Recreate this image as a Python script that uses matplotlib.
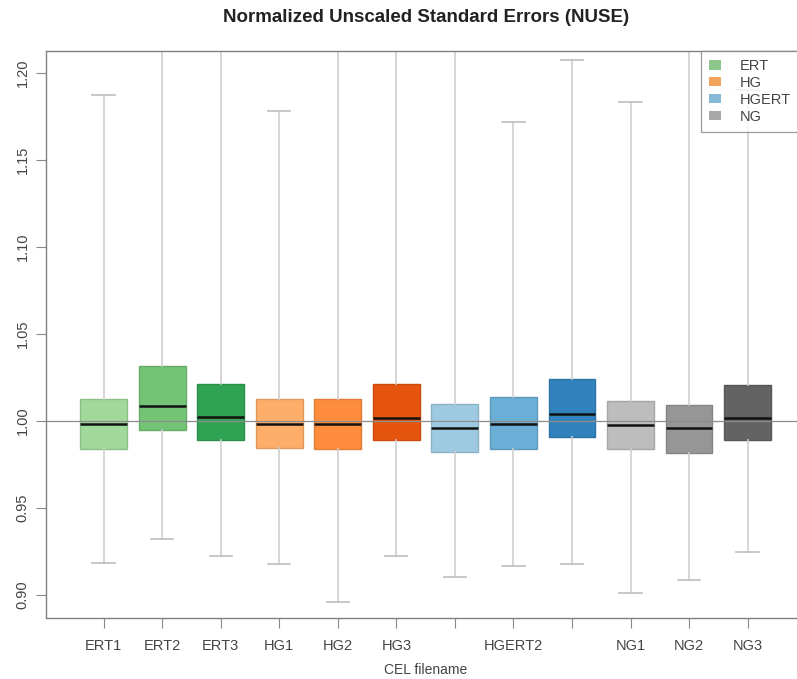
import matplotlib
matplotlib.use("Agg")
import matplotlib.pyplot as plt
from matplotlib.patches import Patch
from matplotlib.colors import to_rgb

plt.rcParams["font.family"] = ["Liberation Sans", "DejaVu Sans"]

# NUSE summary per CEL file
samples = ["ERT1", "ERT2", "ERT3", "HG1", "HG2", "HG3",
           "HGERT1", "HGERT2", "HGERT3", "NG1", "NG2", "NG3"]
medians = [0.9983, 1.0088, 1.0021, 0.9983, 0.9983, 1.0019,
           0.9962, 0.9983, 1.0039, 0.9977, 0.9962, 1.0019]
q1 = [0.9837, 0.9948, 0.9891, 0.9847, 0.9841, 0.9889,
      0.9822, 0.9841, 0.9908, 0.9837, 0.9818, 0.9891]
q3 = [1.0125, 1.0316, 1.0211, 1.0125, 1.0125, 1.0213,
      1.0098, 1.0136, 1.0240, 1.0113, 1.0092, 1.0205]
whisker_low = [0.9186, 0.9320, 0.9224, 0.9180, 0.8958, 0.9224,
               0.9103, 0.9167, 0.9180, 0.9012, 0.9086, 0.9247]
whisker_high = [1.187, 1.260, 1.240, 1.178, 1.300, 1.250,
                1.270, 1.172, 1.2075, 1.1835, 1.250, 1.190]

groups = ["ERT", "HG", "HGERT", "NG"]
group_colors = {
    "ERT": ["#a1d99b", "#74c476", "#31a354"],
    "HG": ["#fdae6b", "#fd8d3c", "#e6550d"],
    "HGERT": ["#9ecae1", "#6baed6", "#3182bd"],
    "NG": ["#bdbdbd", "#969696", "#636363"],
}
legend_colors = ["#8cc68a", "#f3a35c", "#86b9d6", "#a8a8a8"]

# R drops axis labels that would overlap their neighbours
hidden_labels = ["HGERT1", "HGERT3"]

box_colors = [c for g in groups for c in group_colors[g]]

fig = plt.figure(figsize=(7.97, 6.79), dpi=100)
ax = fig.add_axes([0.058, 0.0898, 0.952, 0.8353])

stats = []
for i, name in enumerate(samples):
    stats.append(dict(label=name, med=medians[i], q1=q1[i], q3=q3[i],
                      whislo=whisker_low[i], whishi=whisker_high[i]))

positions = list(range(1, len(samples) + 1))
bp = ax.bxp(stats, positions=positions, widths=0.8, capwidths=0.38,
            patch_artist=True, showfliers=False,
            medianprops=dict(color="#111111", linewidth=1.8),
            whiskerprops=dict(color="#cfcfcf", linewidth=1.2, linestyle="-"),
            capprops=dict(color="#bdbdbd", linewidth=1.2),
            boxprops=dict(linewidth=1.0))

for patch, c in zip(bp["boxes"], box_colors):
    r, g, b = to_rgb(c)
    patch.set_facecolor(c)
    patch.set_edgecolor((r * 0.88, g * 0.88, b * 0.88))
for med in bp["medians"]:
    med.set_zorder(4)

ax.axhline(1.0, color="#8c8c8c", linewidth=0.9, zorder=5)

ax.set_xlim(0.02, 12.98)
ax.set_ylim(0.8868, 1.2126)

ax.set_xticks(positions)
ax.set_xticklabels(["" if s in hidden_labels else s for s in samples])
yt = [0.90, 0.95, 1.00, 1.05, 1.10, 1.15, 1.20]
ax.set_yticks(yt)
ax.set_yticklabels(["%.2f" % v for v in yt], rotation=90, va="center")

ax.tick_params(axis="both", direction="out", length=7, width=0.8,
               color="#888888", labelcolor="#444444", labelsize=10.5)
ax.tick_params(axis="x", pad=8)
ax.tick_params(axis="y", pad=5)
for sp in ax.spines.values():
    sp.set_color("#808080")
    sp.set_linewidth(1.0)

ax.set_xlabel("CEL filename", fontsize=10, color="#444444", labelpad=7)

fig.text(426 / 797, 1 - 17 / 679, "Normalized Unscaled Standard Errors (NUSE)",
         ha="center", va="center", fontsize=13.5, fontweight="bold",
         color="#222222")

handles = [Patch(facecolor=c, edgecolor="none") for c in legend_colors]
leg = ax.legend(handles, groups, loc="upper left",
                bbox_to_anchor=(701 / 797, 1 - 51 / 679),
                bbox_transform=fig.transFigure,
                fontsize=10.5, frameon=True, fancybox=False,
                handlelength=0.8, handleheight=0.6, handletextpad=1.3,
                labelspacing=0.2, borderpad=0.55, borderaxespad=0)
leg.get_frame().set_edgecolor("#808080")
leg.get_frame().set_linewidth(0.9)
for t in leg.get_texts():
    t.set_color("#444444")

fig.savefig("out.png", dpi=100)
